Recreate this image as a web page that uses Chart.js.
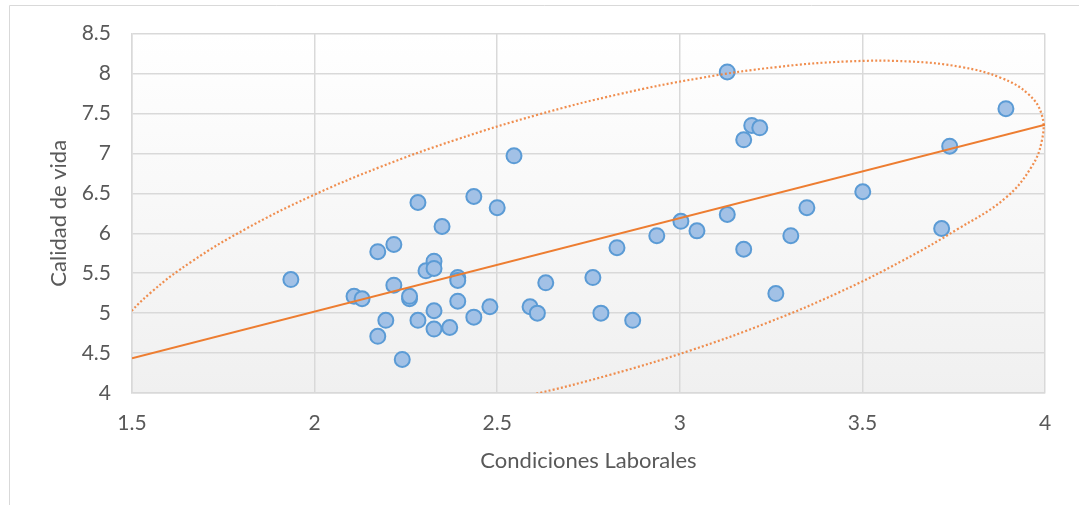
<!DOCTYPE html>
<html>
<head>
<meta charset="utf-8">
<script src="https://cdn.jsdelivr.net/npm/chart.js@4.4.1/dist/chart.umd.min.js"></script>
<style>
  html, body { margin: 0; padding: 0; background: #ffffff; }
  canvas { display: block; }
</style>
</head>
<body>
<canvas id="c" width="1079" height="505"></canvas>
<script>
// ---- data ----
const condicionesLaborales = [
  1.935, 2.108, 2.130, 2.173, 2.173, 2.195, 2.217, 2.217, 2.240, 2.260,
  2.260, 2.283, 2.283, 2.305, 2.327, 2.327, 2.327, 2.327, 2.349, 2.370,
  2.392, 2.392, 2.392, 2.436, 2.436, 2.480, 2.500, 2.546, 2.590, 2.610,
  2.633, 2.762, 2.784, 2.828, 2.871, 2.937, 3.003, 3.047, 3.130, 3.130,
  3.175, 3.175, 3.197, 3.219, 3.263, 3.304, 3.348, 3.501, 3.717, 3.739,
  3.893
];
const calidadDeVida = [
  5.42, 5.21, 5.18, 5.77, 4.71, 4.91, 5.86, 5.35, 4.42, 5.18,
  5.21, 6.385, 4.91, 5.53, 5.65, 5.56, 5.03, 4.80, 6.085, 4.82,
  5.445, 5.41, 5.15, 6.46, 4.95, 5.08, 6.32, 6.97, 5.08, 5.00,
  5.38, 5.445, 5.00, 5.82, 4.91, 5.97, 6.15, 6.03, 8.02, 6.235,
  7.17, 5.80, 7.35, 7.32, 5.245, 5.97, 6.32, 6.52, 6.06, 7.09,
  7.56
];
const xTickValues = [1.5, 2, 2.5, 3, 3.5, 4];
const yTickValues = [4, 4.5, 5, 5.5, 6, 6.5, 7, 7.5, 8, 8.5];

// linear trend line end points
const trendX = [1.5, 4.0];
const trendY = [4.435, 7.36];

// dotted ellipse outline, points traced around the curve
// (the parts cut off by the plot edges are estimated)
const ellipseX = [
  1.430, 1.432, 1.473, 1.552, 1.666, 1.812, 1.984, 2.179, 2.391, 2.611,
  2.835, 3.055, 3.265, 3.458, 3.628, 3.770, 3.880, 3.954, 3.991, 3.992,
  3.962, 3.890, 3.759, 3.610, 3.437, 3.242, 3.031, 2.810, 2.586, 2.366,
  2.156, 1.963, 1.793, 1.651, 1.541, 1.467, 1.430
];
const ellipseY = [
  4.227, 4.534, 4.882, 5.259, 5.654, 6.056, 6.451, 6.829, 7.177, 7.484,
  7.743, 7.943, 8.081, 8.151, 8.151, 8.082, 7.945, 7.744, 7.486, 7.173,
  6.823, 6.435, 6.047, 5.657, 5.262, 4.884, 4.536, 4.229, 3.970, 3.769,
  3.632, 3.562, 3.562, 3.631, 3.768, 3.969, 4.227
];

const xTitle = 'Condiciones Laborales';
const yTitle = 'Calidad de vida';

// ---- build datasets ----
const toPts = (xs, ys) => xs.map((x, i) => ({ x: x, y: ys[i] }));

const FONT = 'Lato, "Open Sans", sans-serif';
const TEXT = '#595959';
const GRID = '#d9d9d9';

const bgPlugin = {
  id: 'bg',
  beforeDraw(chart) {
    const { ctx, chartArea: a } = chart;
    ctx.save();
    // outer chart frame (left and top edges visible)
    ctx.strokeStyle = GRID;
    ctx.lineWidth = 1;
    ctx.beginPath();
    ctx.moveTo(9.5, 505);
    ctx.lineTo(9.5, 5.5);
    ctx.lineTo(1079, 5.5);
    ctx.stroke();
    // plot area gradient
    const g = ctx.createLinearGradient(0, a.top, 0, a.bottom);
    g.addColorStop(0, '#ffffff');
    g.addColorStop(1, '#f0f0f0');
    ctx.fillStyle = g;
    ctx.fillRect(a.left, a.top, a.right - a.left, a.bottom - a.top);
    ctx.restore();
  }
};

const fmt = v => String(v);

new Chart(document.getElementById('c'), {
  type: 'scatter',
  data: {
    datasets: [
      {
        label: 'Trend',
        data: toPts(trendX, trendY),
        showLine: true,
        borderColor: '#ED7D31',
        borderWidth: 2,
        pointRadius: 0,
        pointHoverRadius: 0,
        order: 0
      },
      {
        label: 'Elipse',
        data: toPts(ellipseX, ellipseY),
        showLine: true,
        tension: 0.4,
        borderColor: 'rgba(238,130,60,0.9)',
        borderWidth: 2.2,
        borderDash: [2, 2.2],
        pointRadius: 0,
        pointHoverRadius: 0,
        order: 1
      },
      {
        label: 'Datos',
        data: toPts(condicionesLaborales, calidadDeVida),
        backgroundColor: '#a2c1e6',
        borderColor: '#5B9BD5',
        borderWidth: 2,
        pointRadius: 7.5,
        pointHoverRadius: 7.5,
        order: 2
      }
    ]
  },
  options: {
    responsive: false,
    animation: false,
    events: [],
    layout: { padding: { top: 33, left: 9, right: 34, bottom: 0 } },
    plugins: {
      legend: { display: false },
      tooltip: { enabled: false }
    },
    scales: {
      x: {
        type: 'linear',
        min: 1.5,
        max: 4,
        afterBuildTicks: s => { s.ticks = xTickValues.map(v => ({ value: v })); },
        afterFit: s => { s.height = 112; },
        grid: { color: GRID, lineWidth: 1.5, drawTicks: false },
        border: { color: GRID, width: 1.5 },
        ticks: {
          padding: 18,
          color: TEXT,
          font: { family: FONT, size: 21 },
          maxRotation: 0,
          autoSkip: false,
          callback: fmt
        },
        title: {
          display: true,
          text: xTitle,
          color: TEXT,
          font: { family: FONT, size: 22 },
          padding: { top: 0, bottom: 31 }
        }
      },
      y: {
        type: 'linear',
        min: 4,
        max: 8.5,
        afterBuildTicks: s => { s.ticks = yTickValues.map(v => ({ value: v })); },
        afterFit: s => { s.width = 123; },
        grid: { color: GRID, lineWidth: 1.5, drawTicks: false },
        border: { color: GRID, width: 1.5 },
        ticks: {
          padding: 21,
          color: TEXT,
          font: { family: FONT, size: 21 },
          autoSkip: false,
          callback: fmt
        },
        title: {
          display: true,
          text: yTitle,
          color: TEXT,
          font: { family: FONT, size: 22 },
          padding: { top: 37, bottom: 0 }
        }
      }
    }
  },
  plugins: [bgPlugin]
});
</script>
</body>
</html>
